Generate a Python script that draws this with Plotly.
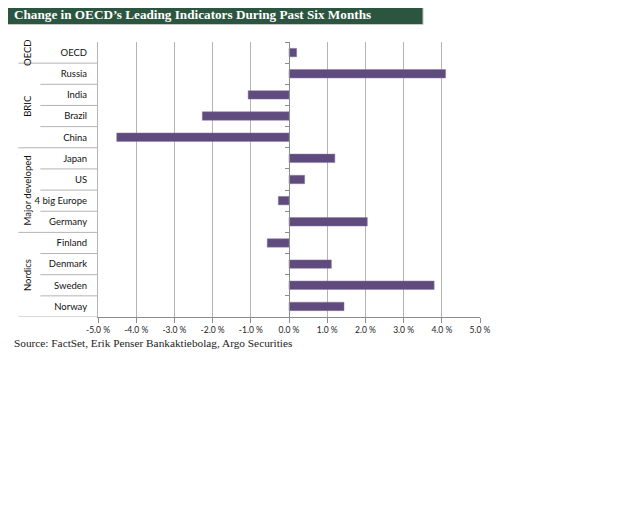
import plotly.graph_objects as go

categories = ["OECD", "Russia", "India", "Brazil", "China", "Japan", "US",
              "4 big Europe", "Germany", "Finland", "Denmark", "Sweden", "Norway"]
groups = ["OECD", "BRIC", "BRIC", "BRIC", "BRIC", "Major developed", "Major developed",
          "Major developed", "Major developed", "Nordics", "Nordics", "Nordics", "Nordics"]
values = [0.2, 4.1, -1.07, -2.27, -4.51, 1.2, 0.41, -0.28, 2.05, -0.57, 1.11, 3.8, 1.44]
tick_vals = [-5, -4, -3, -2, -1, 0, 1, 2, 3, 4, 5]

title_text = "Change in OECD\u2019s Leading Indicators During Past Six Months"
source_text = "Source: FactSet, Erik Penser Bankaktiebolag, Argo Securities"

W, H = 640, 511
OFF = 8  # page body margin
L, R, T, B = 97.7 - OFF, 480.0 - OFF, 42.0 - OFF, 317.0 - OFF
pw, ph = R - L, B - T

LABEL_FONT = "Lato"


def px_x(px):
    return (px - OFF - L) / pw


def px_y(py):
    return (B - (py - OFF)) / ph


fig = go.Figure()
fig.add_trace(go.Bar(
    x=values, y=list(range(len(categories))), orientation="h",
    marker=dict(color="#5f4b7d", line=dict(color="#8a7aa3", width=0.5)),
    width=0.4, hoverinfo="skip"
))

grid_col = "#b4b4b4"
shapes = []
annotations = []

n = len(categories)
for i in range(n):
    b = i + 0.5
    last = i == n - 1
    new_group = last or groups[i + 1] != groups[i]
    x0 = px_x(18) if new_group else px_x(40)
    shapes.append(dict(type="line", xref="paper", yref="y", x0=x0, x1=0,
                       y0=b, y1=b, line=dict(color=grid_col, width=1)))

seen = []
for g in groups:
    if g not in seen:
        seen.append(g)
for g in seen:
    idx = [i for i, gg in enumerate(groups) if gg == g]
    yc = sum(idx) / len(idx)
    annotations.append(dict(text=g, xref="paper", yref="y", x=px_x(27), y=yc,
                            xanchor="center", yanchor="middle",
                            textangle=-90, showarrow=False,
                            font=dict(family=LABEL_FONT, size=9.5, color="#111")))

shapes.append(dict(type="rect", xref="paper", yref="paper",
                   x0=px_x(3), x1=px_x(423), y0=px_y(24.5), y1=px_y(4),
                   fillcolor="#2c5540", line=dict(color="#c8c8c8", width=1), layer="below"))
annotations.append(dict(text="<b>" + title_text + "</b>", xref="paper", yref="paper",
                        x=px_x(12), y=px_y(14.5), xanchor="left", yanchor="middle",
                        showarrow=False,
                        font=dict(family="Liberation Serif", size=13.2, color="white")))
annotations.append(dict(text=source_text, xref="paper", yref="paper",
                        x=px_x(12), y=px_y(343), xanchor="left", yanchor="middle",
                        showarrow=False,
                        font=dict(family="Liberation Serif", size=11.3, color="#222")))

fig.update_layout(
    width=W, height=H,
    margin=dict(l=L, r=W - R, t=T, b=H - B, pad=0),
    paper_bgcolor="white", plot_bgcolor="white",
    showlegend=False,
    bargap=0.6,
    xaxis=dict(range=[-5, 5], tickvals=tick_vals,
               ticktext=[f"{v:.1f} %" for v in tick_vals],
               showgrid=True, gridcolor=grid_col, gridwidth=1,
               zeroline=False, showline=True, linecolor="#8c8c8c", linewidth=1,
               ticks="outside", ticklen=5, tickcolor="#8c8c8c",
               tickfont=dict(family=LABEL_FONT, size=8.5, color="#222"),
               fixedrange=True),
    yaxis=dict(range=[n - 0.5, -0.5], tickvals=list(range(n)), ticktext=categories,
               showgrid=False, zeroline=False, showline=True, linecolor=grid_col,
               linewidth=1, ticks="", ticklabelstandoff=8,
               tickfont=dict(family=LABEL_FONT, size=9.5, color="#111"),
               fixedrange=True),
    yaxis2=dict(range=[n - 0.5, -0.5], overlaying="y", anchor="free", position=0.5,
                side="left", tickvals=[i + 0.5 for i in range(-1, n)],
                showticklabels=False, ticks="outside", ticklen=4, tickcolor="#8c8c8c",
                showline=True, linecolor="#8c8c8c", linewidth=1,
                showgrid=False, zeroline=False, fixedrange=True),
    shapes=shapes,
    annotations=annotations,
)
fig.add_trace(go.Scatter(x=[0], y=[0], yaxis="y2", mode="markers",
                         marker=dict(opacity=0), hoverinfo="skip"))

fig.write_html("out.html")
